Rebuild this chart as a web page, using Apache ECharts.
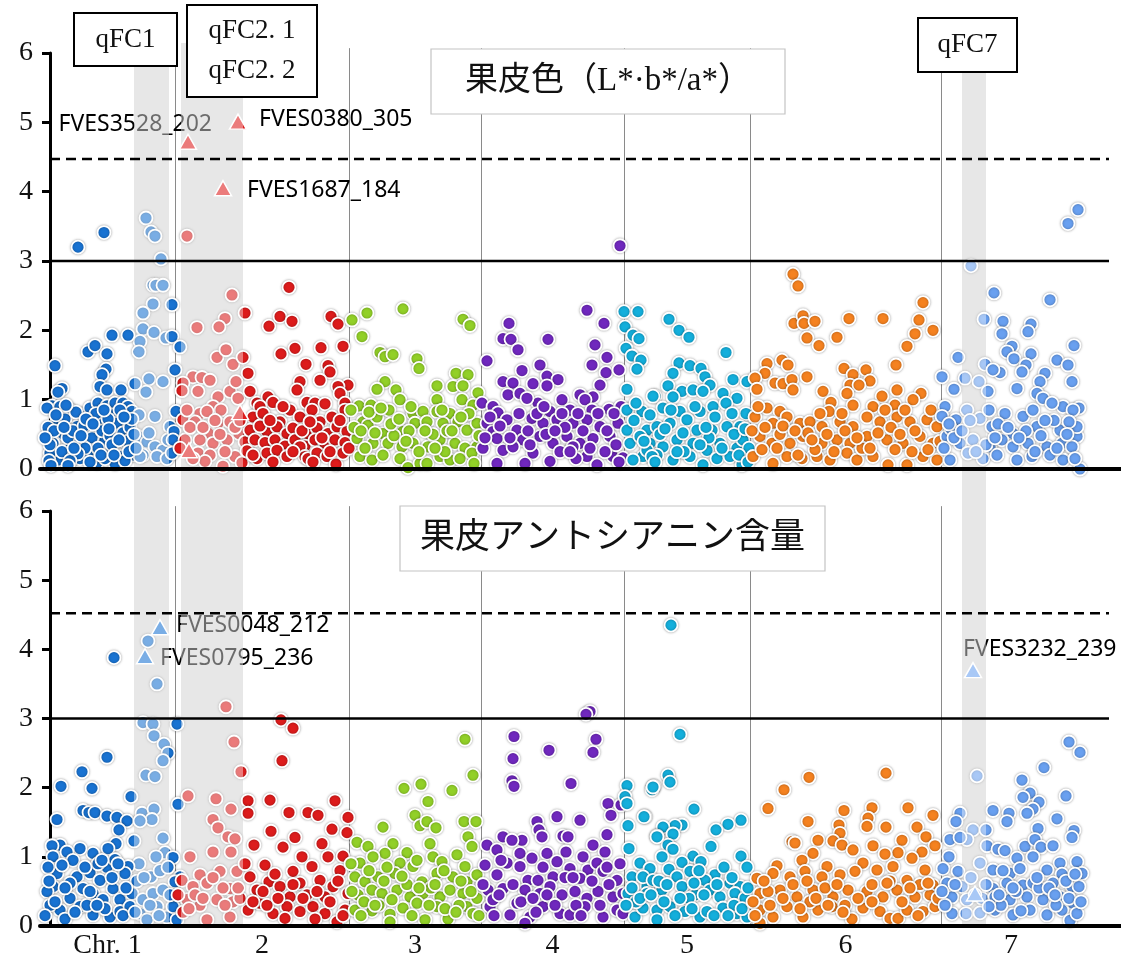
<!DOCTYPE html>
<html>
<head>
<meta charset="utf-8">
<script src="https://cdn.jsdelivr.net/npm/echarts@6/dist/echarts.min.js"></script>
<style>
  html, body { margin: 0; padding: 0; background: #fff; }
  #chart { width: 1121px; height: 962px; }
</style>
</head>
<body>
<div id="chart"></div>
<script>
// ---- chromosome layout (genome position units) ----
const chrNames  = ['Chr. 1', '2', '3', '4', '5', '6', '7'];
const chrStart  = [0, 135, 309, 441, 584, 710, 901];
const chrLength = [135, 174, 132, 143, 126, 191, 140];

// QTL intervals: [name, start, end]
const qtlBands = [['qFC1', 94, 129], ['qFC2', 141, 203], ['qFC7', 922, 946]];

// [suggestive, significant] -log10(P) thresholds
const skinThreshold  = [3, 4.47];
const anthoThreshold = [3, 4.52];

// ---- fruit skin colour (L*·b*/a*): [position within chromosome, -log10(P)] ----
const skinChr1 = [[38,3.2],[64,3.41],[106,3.62],[111,3.42],[115,3.36],[121,3.03],[113,2.65],[116,2.65],[123,2.65],[113,2.38],[103,2.25],[103,2.02],[114,1.97],[100,1.84],[126,1.89],[99,1.69],[132,2.37],[132,1.91],[140,1.76],[135,1.43],[109,1.3],[123,1.26],[106,1.11],
[15,1.49],[22,1.16],[18,1.11],[48,1.69],[55,1.78],[72,1.93],[88,1.93],[67,1.66],[66,1.44],[62,1.36],[60,1.19],[67,1.14],[95,1.23],[81,1.14],
[12,0.91],[17,0.68],[20,0.9],[30,0.85],[42,0.78],[50,0.88],[58,0.95],[67,0.91],[75,0.95],[83,0.95],[88,0.9],[92,0.83],
[19,0.54],[23,0.51],[37,0.61],[47,0.59],[60,0.68],[65,0.42],[73,0.78],[78,0.61],[86,0.39],
[13,0.37],[27,0.27],[35,0.42],[55,0.31],[70,0.23],[80,0.18],[40,0.15],[18,0.13],[57,0.09],[75,0.08],[10,0.23],[32,0.18],[48,0.23],[92,0.2],
[98,0.47],[107,0.39],[115,0.32],[123,0.27],[103,0.2],[117,0.18],[127,0.15],[100,0.18],[130,0.61],[128,0.42],[99,0.78],[115,0.76],[109,0.52],
[136,0.83],[134,0.54],[133,0.42],[132,0.23],
[7,0.88],[8,0.6],[10,0.35],[9,0.12],[25,0.72],[28,0.45],[33,0.55],[44,0.62],[52,0.45],[58,0.3],[62,0.55],[70,0.48],[77,0.66],[83,0.52],[90,0.6],[85,0.12],[65,0.15],[45,0.3],[22,0.25],[14,0.55],[38,0.22],[30,0.12],[50,0.1],[72,0.35],[88,0.4],[92,0.72],[80,0.85],[56,0.8],[36,0.82],[26,0.92],[68,0.72],
[5,0.45],[16,0.78],[24,0.6],[34,0.3],[41,0.48],[46,0.72],[53,0.65],[61,0.2],[64,0.85],[69,0.58],[74,0.2],[79,0.42],[84,0.75],[89,0.25],[94,0.5],[96,0.3],[11,0.05],[28,0.05]];

const skinChr2 = [[12,3.36],[57,2.51],[50,2.17],[44,2.05],[22,2.04],[42,1.61],[51,1.72],[58,1.51],[68,1.61],[70,2.25],[73,1.38],
[18,1.33],[27,1.32],[35,1.28],[8,1.24],[23,1.12],[7,1.13],[43,1.04],[55,1.12],[61,1.26],[63,1.02],[75,1.12],
[38,0.9],[46,0.85],[25,0.8],[32,0.83],[8,0.71],[20,0.68],[33,0.52],[43,0.66],[55,0.68],[64,0.51],[70,0.39],[10,0.42],[25,0.42],[38,0.37],[52,0.42],[23,0.23],[35,0.2],[30,0.11],[48,0.04],[60,0.18],[67,0.09],[15,0.6],[28,0.6],[45,0.5],[60,0.6],[5,0.3],[18,0.15],
[114,2.62],[94,2.06],[105,2.2],[117,2.13],[156,2.2],[163,2.09],[168,1.77],[146,1.75],[120,1.74],[106,1.66],[131,1.51],[153,1.49],[155,1.4],[125,1.26],[145,1.28],[173,1.21],[163,1.19],[122,1.14],[165,1.09],
[82,0.95],[93,1.04],[98,0.96],[85,0.9],[132,0.96],[140,0.95],[150,0.94],[170,0.95],[78,0.75],[88,0.8],[105,0.68],[115,0.85],[125,0.75],[137,0.85],[145,0.68],[157,0.75],[170,0.85],
[75,0.56],[92,0.54],[102,0.61],[112,0.51],[118,0.59],[132,0.51],[142,0.59],[153,0.51],[162,0.61],[172,0.54],
[80,0.42],[90,0.38],[100,0.42],[110,0.33],[120,0.42],[130,0.33],[140,0.42],[150,0.36],[160,0.42],[170,0.38],
[82,0.15],[92,0.23],[102,0.27],[112,0.18],[125,0.32],[130,0.18],[133,0.15],[142,0.23],[152,0.18],[161,0.07],[168,0.23],[72,0.26],
[78,0.2],[85,0.62],[95,0.7],[108,0.9],[118,0.25],[127,0.55],[135,0.68],[147,0.45],[155,0.25],[165,0.7],[174,0.3],[98,0.1],[138,0.1],[12,0.85],[40,0.7],[50,0.25],[65,0.7]];

const skinChr3 = [[3,2.15],[18,2.25],[13,1.91],[54,2.31],[114,2.16],[121,2.07],[31,1.68],[36,1.62],[44,1.65],[68,1.59],[70,1.45],[107,1.38],[119,1.36],[88,1.2],[104,1.19],[114,1.2],[36,1.26],[47,1.14],[28,1.15],[129,1.1],
[10,0.91],[22,0.92],[51,1.0],[64,0.8],[74,0.83],[88,1.0],[113,1.0],[101,0.8],[124,0.92],
[14,0.68],[19,0.63],[34,0.51],[46,0.66],[54,0.54],[66,0.66],[78,0.68],[88,0.83],[94,0.66],[109,0.68],[118,0.56],[128,0.66],
[8,0.44],[24,0.37],[39,0.37],[53,0.32],[64,0.37],[79,0.32],[91,0.42],[106,0.37],[116,0.3],[128,0.32],
[11,0.18],[23,0.13],[34,0.2],[51,0.15],[59,0.02],[71,0.08],[78,0.08],[91,0.18],[101,0.13],[111,0.15],[123,0.23],
[5,0.6],[28,0.75],[40,0.85],[60,0.55],[84,0.5],[98,0.55],[120,0.8],[16,0.3],[45,0.48],[70,0.25],[96,0.25],[130,0.48],
[2,0.85],[12,0.55],[20,0.82],[26,0.52],[32,0.88],[42,0.65],[50,0.72],[57,0.4],[62,0.9],[76,0.55],[86,0.3],[93,0.85],[103,0.55],[112,0.75],[125,0.08]];

const skinChr4 = [[139,3.22],[106,2.29],[28,2.1],[22,1.88],[30,1.87],[37,1.72],[67,1.87],[123,2.1],[114,1.79],[6,1.56],[59,1.5],[41,1.42],[66,1.34],[77,1.29],[111,1.5],[126,1.61],[125,1.39],[138,1.43],
[22,1.26],[32,1.24],[52,1.23],[66,1.2],[119,1.21],[27,1.07],[39,1.09],[57,0.95],[81,1.0],[99,1.07],[112,1.04],[1,0.95],[12,0.9],[17,0.81],[46,1.02],[69,0.83],[89,0.85],[104,1.0],[128,0.86],[111,0.85],
[6,0.66],[26,0.71],[36,0.56],[51,0.73],[62,0.66],[76,0.71],[92,0.66],[106,0.71],[119,0.61],[137,0.66],
[12,0.54],[16,0.44],[42,0.42],[59,0.47],[72,0.37],[86,0.47],[99,0.37],[112,0.44],[129,0.47],
[2,0.3],[22,0.27],[32,0.32],[52,0.23],[69,0.11],[79,0.25],[92,0.32],[106,0.18],[116,0.06],[132,0.18],[142,0.16],[16,0.08],[44,0.08],
[140,0.9],[135,0.35],[84,0.6],[47,0.55],[65,0.5],[95,0.15],[124,0.25],
[4,0.45],[9,0.75],[19,0.62],[29,0.45],[38,0.8],[49,0.35],[56,0.8],[63,0.9],[74,0.55],[81,0.8],[89,0.25],[97,0.8],[102,0.55],[109,0.3],[117,0.8],[126,0.55],[133,0.8],[138,0.1]];

const skinChr5 = [[0,2.27],[14,2.27],[1,2.05],[9,1.93],[15,1.88],[2,1.74],[8,1.63],[17,1.57],[13,1.44],[3,1.15],[31,1.05],[3,0.85],[18,0.83],
[45,2.16],[55,2.0],[65,1.9],[102,1.68],[55,1.53],[66,1.49],[77,1.45],[49,1.38],[81,1.33],[109,1.29],[86,1.21],[44,1.2],[123,1.26],
[29,1.05],[58,1.12],[69,1.14],[79,1.12],[99,1.09],[113,1.02],[39,0.88],[49,1.04],[56,0.83],[76,0.83],[89,0.9],[102,0.95],[122,0.8],
[23,0.56],[33,0.61],[46,0.66],[63,0.71],[73,0.56],[88,0.56],[103,0.61],[116,0.61],
[26,0.37],[39,0.32],[53,0.42],[69,0.37],[83,0.27],[96,0.37],[113,0.3],[119,0.42],
[19,0.18],[33,0.2],[49,0.13],[66,0.18],[79,0.06],[93,0.15],[106,0.18],[118,0.06],
[3,0.56],[6,0.37],[16,0.47],[23,0.27],[9,0.13],[28,0.18],[10,0.7],[36,0.5],[60,0.25],[85,0.45],[110,0.5],[125,0.3],
[12,0.95],[20,0.4],[26,0.78],[31,0.1],[41,0.58],[47,0.85],[53,0.25],[59,0.52],[71,0.9],[76,0.35],[82,0.6],[91,0.75],[98,0.3],[108,0.8],[115,0.2],[121,0.58],[124,0.1]];

const skinChr6 = [[43,2.81],[48,2.64],[44,2.1],[53,2.21],[54,2.1],[65,2.13],[57,1.89],[69,1.78],[87,1.9],[99,2.17],[133,2.17],[173,2.4],[169,2.15],[183,2.0],[165,1.95],[157,1.77],[146,1.5],
[17,1.52],[32,1.57],[38,1.5],[15,1.38],[5,1.31],[7,1.15],[25,1.24],[33,1.23],[42,1.29],[43,1.14],[57,1.33],[73,1.12],[81,0.96],[94,1.45],[103,1.36],[116,1.43],[120,1.27],[100,1.21],[109,1.21],[97,1.09],[132,1.05],[147,1.14],[171,1.09],[163,1.0],
[79,0.83],[17,0.88],[30,0.83],[103,0.92],[123,0.9],[145,0.92],
[5,0.75],[23,0.66],[37,0.75],[50,0.66],[60,0.68],[72,0.61],[90,0.68],[103,0.61],[117,0.75],[130,0.68],[147,0.75],[160,0.68],[177,0.71],[187,0.61],
[10,0.47],[22,0.37],[40,0.37],[53,0.47],[72,0.37],[87,0.42],[100,0.37],[117,0.47],[137,0.42],[153,0.37],[170,0.47],[183,0.37],
[3,0.18],[23,0.08],[37,0.18],[52,0.15],[67,0.18],[80,0.13],[97,0.23],[107,0.13],[123,0.18],[138,0.06],[157,0.06],[173,0.18],[187,0.13],
[30,0.5],[65,0.28],[95,0.55],[112,0.3],[145,0.28],[165,0.55],[12,0.28],[58,0.52],[128,0.52],[178,0.28],
[2,0.55],[8,0.9],[15,0.6],[27,0.3],[33,0.62],[45,0.55],[48,0.2],[62,0.42],[70,0.8],[77,0.5],[84,0.25],[92,0.8],[107,0.45],[120,0.3],[135,0.85],[141,0.6],[150,0.5],[155,0.85],[162,0.25],[181,0.85],[190,0.4]];

const skinChr7 = [[137,3.74],[127,3.54],[30,2.93],[53,2.54],[109,2.44],[43,2.16],[62,2.13],[61,1.95],[90,2.09],[87,1.98],[71,1.77],[66,1.69],[73,1.59],[90,1.66],[133,1.78],[116,1.57],[127,1.5],[131,1.26],[85,1.5],[81,1.4],[104,1.38],[99,1.26],
[17,1.61],[24,1.31],[1,1.33],[38,1.26],[44,1.51],[59,1.39],[52,1.43],[13,1.15],[76,1.16],[47,1.12],[96,1.09],[102,1.02],[138,0.88],[122,0.9],[111,0.95],[132,0.85],
[4,0.9],[1,0.76],[15,0.71],[26,0.85],[39,0.73],[51,0.61],[72,0.51],[82,0.76],[96,0.61],[119,0.56],[136,0.47],[136,0.61],
[6,0.47],[19,0.37],[32,0.42],[49,0.32],[61,0.42],[72,0.32],[87,0.37],[106,0.32],[121,0.37],[131,0.32],
[9,0.13],[27,0.23],[42,0.15],[56,0.2],[76,0.13],[91,0.18],[109,0.2],[122,0.13],[139,0.0],
[64,0.8],[92,0.85],[113,0.7],[57,0.65],[10,0.58],[45,0.35],[85,0.55],[100,0.48],[128,0.68],
[3,0.3],[8,0.65],[13,0.45],[21,0.55],[29,0.7],[35,0.25],[48,0.85],[54,0.45],[67,0.6],[78,0.45],[94,0.25],[104,0.7],[116,0.3],[126,0.5],[134,0.15]];

// ---- fruit skin anthocyanin content ----
const anthoChr1 = [[74,3.88],[108,4.12],[117,3.5],[103,2.94],[113,2.92],[137,2.92],[114,2.75],[124,2.63],[128,2.5],[123,2.39],[106,2.18],[115,2.16],[67,2.44],[42,2.23],[21,2.02],[52,1.99],[91,1.87],[138,1.76],
[17,1.54],[43,1.67],[49,1.64],[55,1.64],[67,1.59],[77,1.57],[87,1.52],[79,1.39],[102,1.63],[114,1.69],[112,1.54],[100,1.52],[123,1.27],[125,1.06],[116,1.0],[133,0.99],[99,0.9],[111,0.71],[94,1.23],[76,1.19],[68,1.12],[53,1.05],[40,1.12],[20,1.17],[12,1.16],[13,1.0],[27,1.07],[33,0.95],
[50,0.77],[67,0.85],[75,0.96],[88,0.86],[17,0.76],[37,0.71],[60,0.66],[73,0.54],[85,0.76],[13,0.57],[30,0.4],[43,0.54],[53,0.47],[63,0.38],[80,0.38],[92,0.47],
[20,0.23],[25,0.1],[40,0.28],[53,0.16],[70,0.13],[80,0.21],[90,0.28],[100,0.18],[107,0.09],[117,0.28],[127,0.13],[133,0.28],[137,0.09],[103,0.38],[113,0.47],[123,0.52],[140,0.71],[135,0.64],
[8,0.85],[7,0.5],[10,0.3],[22,0.88],[47,0.3],[58,0.9],[65,0.25],[83,0.15],[97,0.65],[120,0.8],[30,0.62],[9,0.65],
[5,0.15],[15,0.35],[25,0.55],[35,0.2],[45,0.85],[50,0.5],[57,0.3],[62,0.95],[72,0.7],[78,0.9],[86,0.55],[95,0.2],[104,0.7],[110,0.3],[130,0.45],[128,0.85],[119,0.15]];

const anthoChr2 = [[51,3.17],[106,2.98],[118,2.86],[59,2.66],[66,2.23],[107,2.39],[13,1.88],[41,1.84],[73,1.81],[95,1.82],[160,1.81],[56,1.69],[73,1.63],[114,1.64],[133,1.64],[143,1.6],[173,1.57],[38,1.54],[43,1.42],[157,1.4],[96,1.37],[120,1.28],[172,1.35],[53,1.29],[60,1.26],[147,1.19],[79,1.17],[108,1.14],
[15,1.0],[38,1.07],[56,1.07],[153,1.0],[168,1.01],[127,1.0],[90,0.88],[118,0.79],[137,0.86],[165,0.8],[25,0.74],[45,0.79],[62,0.79],[75,0.71],[94,0.64],[145,0.66],
[7,0.66],[18,0.57],[32,0.62],[55,0.54],[82,0.52],[105,0.57],[115,0.42],[125,0.62],[158,0.57],[173,0.47],
[12,0.38],[25,0.3],[42,0.38],[58,0.35],[73,0.23],[85,0.33],[98,0.18],[112,0.28],[125,0.21],[138,0.28],[150,0.18],[162,0.06],[32,0.09],[55,0.13],[110,0.11],[170,0.23],
[8,0.2],[20,0.45],[48,0.55],[65,0.4],[88,0.5],[100,0.75],[132,0.45],[150,0.42],[140,0.1],
[3,0.45],[14,0.25],[28,0.4],[38,0.7],[50,0.3],[63,0.55],[70,0.9],[78,0.35],[92,0.3],[103,0.4],[118,0.6],[128,0.4],[142,0.5],[155,0.35],[163,0.65],[168,0.15]];

const anthoChr3 = [[116,2.7],[124,2.18],[55,1.99],[72,2.05],[103,1.96],[79,1.8],[66,1.6],[71,1.45],[78,1.51],[87,1.42],[115,1.51],[127,1.51],[34,1.43],[119,1.29],[81,1.19],[123,1.15],[8,1.21],[19,1.15],[44,1.19],[58,1.06],[36,1.05],[84,1.0],[93,0.93],[108,1.03],
[11,0.91],[24,1.0],[51,0.91],[64,0.86],[116,0.86],[6,0.71],[16,0.64],[29,0.71],[46,0.76],[73,0.64],[88,0.76],[104,0.71],[118,0.64],[128,0.74],
[9,0.45],[23,0.52],[33,0.47],[48,0.52],[61,0.42],[74,0.47],[91,0.42],[101,0.52],[114,0.47],
[6,0.23],[23,0.22],[41,0.17],[54,0.26],[68,0.33],[76,0.09],[88,0.28],[99,0.1],[118,0.28],[124,0.18],[41,0.06],
[15,0.35],[30,0.3],[58,0.6],[82,0.55],[96,0.25],[110,0.3],[128,0.4],[3,0.5],[38,0.85],[68,0.95],
[2,0.9],[12,0.15],[20,0.8],[26,0.3],[35,0.65],[43,0.38],[53,0.72],[63,0.15],[70,0.55],[80,0.3],[86,0.6],[95,0.8],[107,0.2],[112,0.65],[122,0.5],[130,0.15]];

const anthoChr4 = [[109,3.1],[105,3.06],[33,2.74],[32,2.42],[31,2.1],[33,2.02],[68,2.54],[115,2.7],[112,2.51],[90,2.06],[127,1.77],[130,1.6],[140,1.75],[76,1.58],[99,1.53],[56,1.51],[58,1.39],[61,1.29],[82,1.3],[87,1.29],[126,1.32],[22,1.29],[41,1.24],[31,1.24],
[6,1.17],[16,1.1],[39,1.05],[51,0.98],[66,1.05],[85,1.07],[76,0.93],[112,1.17],[124,1.07],[102,1.0],[4,0.88],[26,0.91],[39,0.86],[89,0.83],[107,0.81],[116,0.91],[122,0.79],[136,0.66],
[16,0.74],[47,0.66],[57,0.66],[72,0.71],[99,0.69],[7,0.52],[22,0.54],[44,0.52],[59,0.47],[69,0.57],[81,0.45],[94,0.5],[106,0.4],[117,0.5],[132,0.42],[142,0.47],
[9,0.28],[29,0.16],[36,0.33],[49,0.13],[62,0.28],[79,0.18],[89,0.16],[104,0.28],[122,0.13],[136,0.23],[142,0.18],[44,0.04],
[12,0.38],[55,0.2],[95,0.3],[128,0.6],[20,0.95],[62,0.85],
[2,0.6],[13,0.15],[18,0.45],[32,0.6],[40,0.35],[52,0.4],[66,0.45],[74,0.3],[84,0.7],[92,0.7],[100,0.15],[111,0.65],[119,0.3],[126,0.85],[139,0.9]];

const anthoChr5 = [[47,4.35],[56,2.77],[44,2.18],[46,2.08],[30,2.02],[28,1.97],[70,1.69],[21,1.58],[117,1.53],[104,1.47],[92,1.39],[58,1.46],[51,1.45],[39,1.43],[33,1.3],[49,1.33],[44,1.17],[49,1.11],[87,1.15],[117,1.01],[38,1.0],[69,1.01],[77,0.93],[58,0.92],[123,0.85],
[3,2.03],[29,2.01],[1,1.87],[3,1.77],[20,1.58],[4,1.45],[5,1.12],[33,1.29],[16,0.91],[8,0.71],[23,0.57],[4,0.47],[11,0.13],
[26,0.83],[45,0.82],[66,0.79],[91,0.74],[19,0.71],[29,0.66],[53,0.71],[81,0.66],[106,0.62],[116,0.57],
[23,0.47],[38,0.52],[58,0.57],[71,0.45],[86,0.52],[96,0.42],[111,0.47],[121,0.4],
[19,0.26],[33,0.23],[46,0.28],[61,0.21],[76,0.13],[83,0.21],[99,0.26],[113,0.18],[123,0.13],[33,0.09],
[12,0.35],[40,0.35],[65,0.4],[100,0.85],[110,0.3],[90,0.15],[70,0.62],
[2,0.3],[8,0.55],[16,0.4],[27,0.45],[35,0.65],[43,0.6],[51,0.15],[56,0.4],[68,0.25],[75,0.8],[80,0.45],[93,0.6],[104,0.15],[108,0.7],[118,0.25],[124,0.55]];

const anthoChr6 = [[136,2.21],[59,2.15],[34,1.97],[18,1.7],[94,1.67],[122,1.71],[158,1.71],[183,1.6],[58,1.51],[89,1.46],[118,1.56],[136,1.43],[167,1.43],[117,1.44],[90,1.34],[42,1.22],[45,1.2],[68,1.24],[83,1.23],[92,1.17],[123,1.16],[152,1.24],[176,1.29],[185,1.16],[172,1.07],[148,1.06],[63,1.05],[103,1.1],[135,1.04],
[27,0.87],[52,0.95],[77,0.86],[113,0.91],[143,0.86],[162,0.98],[175,0.81],
[7,0.69],[23,0.76],[40,0.71],[55,0.79],[72,0.71],[90,0.74],[105,0.79],[127,0.81],[157,0.66],[183,0.59],
[10,0.47],[30,0.52],[47,0.42],[63,0.52],[83,0.42],[98,0.52],[117,0.5],[133,0.42],[147,0.52],[165,0.42],[180,0.45],
[10,0.23],[23,0.13],[37,0.28],[53,0.13],[68,0.23],[82,0.28],[102,0.1],[113,0.26],[130,0.21],[140,0.11],[148,0.11],[157,0.23],[173,0.21],[185,0.28],[10,0.04],
[3,0.35],[18,0.5],[60,0.35],[95,0.3],[122,0.6],[170,0.6],[140,0.65],[75,0.55],
[5,0.15],[14,0.65],[20,0.3],[33,0.4],[43,0.6],[50,0.25],[57,0.65],[66,0.4],[78,0.3],[87,0.6],[93,0.2],[108,0.4],[122,0.35],[137,0.62],[152,0.35],[160,0.55],[168,0.15],[178,0.62],[188,0.4]];

const anthoChr7 = [[128,2.66],[139,2.51],[103,2.29],[36,2.17],[81,2.11],[89,1.92],[82,1.86],[98,1.79],[92,1.69],[86,1.63],[125,1.88],[52,1.67],[68,1.63],[66,1.51],[19,1.63],[15,1.51],[116,1.55],[97,1.41],[133,1.38],[131,1.28],[32,1.39],[45,1.39],[26,1.25],[9,1.25],[19,1.28],[46,1.16],[84,1.15],[94,1.25],[100,1.14],[112,1.16],[57,1.11],[64,1.09],
[8,1.0],[76,0.98],[92,1.0],[119,0.91],[136,0.93],[2,0.83],[17,0.79],[39,0.91],[52,0.81],[69,0.76],[79,0.83],[106,0.81],[121,0.75],[141,0.76],
[6,0.62],[21,0.57],[52,0.54],[66,0.62],[82,0.59],[92,0.62],[112,0.62],[131,0.57],[138,0.57],
[11,0.42],[26,0.38],[41,0.4],[54,0.42],[69,0.38],[86,0.42],[102,0.38],[119,0.42],[132,0.33],
[11,0.18],[25,0.18],[39,0.19],[54,0.23],[72,0.16],[89,0.23],[106,0.16],[121,0.23],[129,0.08],[136,0.18],
[30,0.7],[60,0.3],[75,0.5],[98,0.55],[115,0.3],[4,0.3],[45,0.6],[125,0.65],
[1,0.5],[14,0.6],[34,0.45],[48,0.28],[58,0.45],[62,0.8],[72,0.55],[80,0.22],[96,0.7],[108,0.55],[114,0.45],[128,0.4],[134,0.75],[140,0.35]];

// highlighted markers: [marker name, chromosome, position, -log10(P)]
const skinMarkers = [
  ['FVES3528_202', 2, 13, 4.72],
  ['FVES0380_305', 2, 63, 5.01],
  ['FVES1687_184', 2, 48, 4.05],
  ['', 2, 14, 0.27],
  ['', 2, 65, 0.82]
];
const anthoMarkers = [
  ['FVES0048_212', 1, 120, 4.32],
  ['FVES0795_236', 1, 105, 3.90],
  ['FVES3232_239', 7, 32, 3.70],
  ['', 7, 34, 0.47]
];

// ---- styling / layout ----
const chrColors = ['#1973d2', '#dd1c1c', '#92d028', '#7028be', '#14afdc', '#f58220', '#69a0f0'];
const SERIF = '"Liberation Serif", "DejaVu Serif", serif';
const TITLE_FONT = '"Liberation Serif", "Noto Sans CJK JP", sans-serif';
const SANS = '"Noto Sans", "Open Sans", sans-serif';
const X_MAX = 1081;
const lineSpan = [10, 1069];
const dividerTop = 6.07;
const markerLabelLayout = {
  'FVES3528_202': { align: 'right', offset: [24, -17] },
  'FVES0380_305': { align: 'left',  offset: [21, -2] },
  'FVES1687_184': { align: 'left',  offset: [24, 2] },
  'FVES0048_212': { align: 'left',  offset: [16, -2] },
  'FVES0795_236': { align: 'left',  offset: [15, 2] },
  'FVES3232_239': { align: 'left',  offset: [-10, -21] }
};

const chrCenters = chrStart.map((s, i) => s + chrLength[i] / 2);

function chromosomeSeries(gi, lists) {
  return lists.map((list, c) => ({
    type: 'scatter', name: chrNames[c], xAxisIndex: gi, yAxisIndex: gi,
    data: list.map(([p, v]) => [chrStart[c] + p, v]),
    symbol: 'circle', symbolSize: 13, clip: false, silent: true, z: 3,
    itemStyle: {
      color: chrColors[c], opacity: 1, borderColor: '#fff', borderWidth: 1.8,
      shadowBlur: 2.5, shadowColor: 'rgba(0,0,0,0.35)'
    }
  }));
}

function markerSeries(gi, markers) {
  return {
    type: 'scatter', xAxisIndex: gi, yAxisIndex: gi,
    symbol: 'triangle', symbolSize: [17, 15], clip: false, silent: true, z: 4,
    itemStyle: { opacity: 1, borderColor: '#fff', borderWidth: 1.5 },
    data: markers.map(([name, chr, p, v]) => {
      const lay = markerLabelLayout[name];
      return {
        name: name,
        value: [chrStart[chr - 1] + p, v],
        itemStyle: { color: chrColors[chr - 1] },
        label: lay ? {
          show: true, formatter: '{b}', position: 'inside',
          align: lay.align, verticalAlign: 'middle', offset: lay.offset,
          color: '#000', fontFamily: SANS, fontSize: 23, textBorderWidth: 0
        } : { show: false }
      };
    })
  };
}

function thresholdSeries(gi, thr) {
  return thr.map((t, k) => ({
    type: 'line', xAxisIndex: gi, yAxisIndex: gi,
    data: [[lineSpan[0], t], [lineSpan[1], t]],
    symbol: 'none', showSymbol: false, silent: true, z: 12,
    lineStyle: { color: '#000', width: 2.5, type: k === 0 ? 'solid' : [10, 6] }
  }));
}

function dividerSeries(gi) {
  return {
    type: 'custom', xAxisIndex: gi, yAxisIndex: gi, clip: false, silent: true, z: 1,
    data: chrStart.slice(1).map(x => [x, 0]),
    renderItem: (params, api) => {
      const a = api.coord([api.value(0), 0]);
      const b = api.coord([api.value(0), dividerTop]);
      return {
        type: 'line',
        shape: { x1: Math.round(a[0]) + 0.5, y1: a[1], x2: Math.round(b[0]) + 0.5, y2: b[1] },
        style: { stroke: '#8a8a8a', lineWidth: 1 }
      };
    }
  };
}

// QTL interval shading: a grey fill under the points plus a translucent
// white veil over them, so points inside an interval appear washed out.
function bandSeries(fill, z) {
  return {
    type: 'custom', xAxisIndex: 2, yAxisIndex: 2, clip: false, silent: true, z: z,
    data: qtlBands.map(b => [b[1], b[2]]),
    renderItem: (params, api) => {
      const p0 = api.coord([api.value(0), 1]);
      const p1 = api.coord([api.value(1), 0]);
      return {
        type: 'rect',
        shape: { x: p0[0], y: p0[1], width: p1[0] - p0[0], height: p1[1] - p0[1] },
        style: { fill: fill }
      };
    }
  };
}

function yAxisFor(gi) {
  return {
    gridIndex: gi, type: 'value', min: 0, max: 6, interval: 1, offset: -10,
    axisLine: { show: true, lineStyle: { color: '#000', width: 3 } },
    axisTick: { show: true, length: 8, lineStyle: { color: '#000', width: 3 } },
    axisLabel: { color: '#111', fontFamily: SERIF, fontSize: 28, margin: 17 },
    splitLine: { show: false }
  };
}

function labelBox(x, y, w, h, text, fontSize, lineHeight, border) {
  return [
    { type: 'rect', z: 100, shape: { x: x, y: y, width: w, height: h },
      style: { fill: '#fff', stroke: border.color, lineWidth: border.width } },
    { type: 'text', z: 101, x: x + w / 2, y: y + h / 2,
      style: { text: text, fill: '#111', fontSize: fontSize, fontFamily: border.font,
               lineHeight: lineHeight, align: 'center', verticalAlign: 'middle' } }
  ];
}

const chart = echarts.init(document.getElementById('chart'), null, { renderer: 'canvas' });

const qtlBorder = { color: '#000', width: 2, font: SERIF };
const titleBorder = { color: '#c4c4c4', width: 1.2, font: TITLE_FONT };

chart.setOption({
  backgroundColor: '#fff',
  animation: false,
  grid: [
    { left: 40, right: 0, top: 53, height: 416, containLabel: false, outerBoundsMode: 'none' },
    { left: 40, right: 0, top: 511, height: 415, containLabel: false, outerBoundsMode: 'none' },
    { left: 40, right: 0, top: 43, height: 883, containLabel: false, outerBoundsMode: 'none' }
  ],
  xAxis: [
    { gridIndex: 0, type: 'value', min: 0, max: X_MAX, z: 11,
      axisLine: { show: true, onZero: false, lineStyle: { color: '#000', width: 4 } },
      axisTick: { show: false }, axisLabel: { show: false }, splitLine: { show: false } },
    { gridIndex: 1, type: 'value', min: 0, max: X_MAX, z: 11,
      axisLine: { show: true, onZero: false, lineStyle: { color: '#000', width: 4 } },
      axisTick: { show: false }, splitLine: { show: false },
      axisLabel: {
        show: true, customValues: chrCenters, margin: 6,
        color: '#111', fontFamily: SERIF, fontSize: 28,
        formatter: (v) => {
          const i = chrCenters.findIndex(c => Math.abs(c - v) < 1e-6);
          return i >= 0 ? chrNames[i] : '';
        }
      } },
    { gridIndex: 2, type: 'value', min: 0, max: X_MAX, show: false }
  ],
  yAxis: [
    yAxisFor(0),
    yAxisFor(1),
    { gridIndex: 2, type: 'value', min: 0, max: 1, show: false }
  ],
  series: [
    bandSeries('#d6d6d6', 0),
    dividerSeries(0),
    dividerSeries(1),
    ...chromosomeSeries(0, [skinChr1, skinChr2, skinChr3, skinChr4, skinChr5, skinChr6, skinChr7]),
    ...chromosomeSeries(1, [anthoChr1, anthoChr2, anthoChr3, anthoChr4, anthoChr5, anthoChr6, anthoChr7]),
    markerSeries(0, skinMarkers),
    markerSeries(1, anthoMarkers),
    bandSeries('rgba(255,255,255,0.42)', 10),
    ...thresholdSeries(0, skinThreshold),
    ...thresholdSeries(1, anthoThreshold)
  ],
  graphic: [
    ...labelBox(74, 13, 103, 53, 'qFC1', 27, 30, qtlBorder),
    ...labelBox(187, 5, 130, 92, 'qFC2. 1\nqFC2. 2', 27, 40, qtlBorder),
    ...labelBox(918, 18, 99, 54, 'qFC7', 27, 30, qtlBorder),
    ...labelBox(431, 49, 354, 65, '果皮色（L*·b*/a*）', 33, 36, titleBorder),
    ...labelBox(400, 506, 425, 65, '果皮アントシアニン含量', 35, 38, titleBorder)
  ]
});
</script>
</body>
</html>
